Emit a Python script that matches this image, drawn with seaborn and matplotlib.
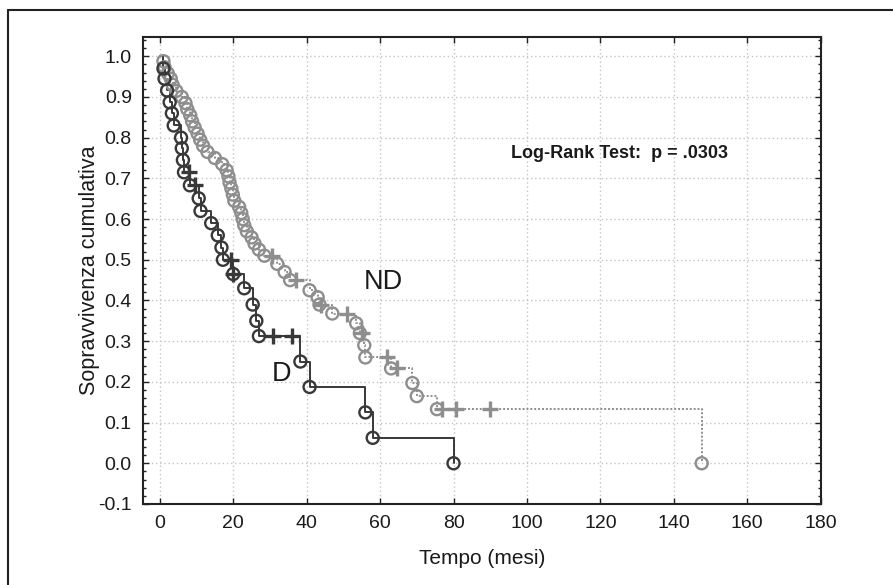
import matplotlib.pyplot as plt
import pandas as pd
import seaborn as sns
from matplotlib.lines import Line2D
from matplotlib.ticker import MultipleLocator, AutoMinorLocator, FormatStrFormatter

sns.set_theme(style='white')
plt.rcParams['font.family'] = ['Liberation Sans', 'DejaVu Sans']
plt.rcParams['axes.unicode_minus'] = False

# gruppo D: tempi di evento (mesi) e sopravvivenza dopo l'evento
d_time = [1.0, 1.3, 2.0, 2.7, 3.3, 3.8, 5.8, 6.0, 6.3, 6.6, 8.2, 10.6, 11.1, 14.0,
          15.8, 16.8, 17.2, 20.0, 23.0, 25.3, 26.3, 27.0, 38.3, 40.8, 56.0, 58.0, 80.0]
d_surv = [0.970, 0.945, 0.916, 0.887, 0.860, 0.830, 0.800, 0.774, 0.745, 0.715, 0.683,
          0.651, 0.620, 0.590, 0.560, 0.530, 0.500, 0.465, 0.430, 0.390, 0.350, 0.3125,
          0.250, 0.1875, 0.125, 0.0625, 0.0]
d_cens_time = [8.0, 9.5, 19.5, 20.0, 30.8, 36.0]
d_cens_surv = [0.715, 0.683, 0.500, 0.465, 0.3125, 0.3125]

# gruppo ND
nd_time = [1.0, 1.3, 2.2, 3.0, 3.5, 4.5, 6.0, 7.0, 7.5, 8.3, 8.8, 9.5, 10.3, 11.0, 11.8,
           13.0, 15.0, 17.0, 18.2, 18.7, 19.0, 19.5, 19.9, 20.3, 21.6, 22.2, 22.6, 23.0,
           23.7, 25.0, 25.8, 27.0, 28.5, 32.0, 34.0, 35.5, 40.8, 43.0, 43.5, 47.0, 53.5,
           54.5, 55.7, 56.0, 63.0, 68.8, 70.0, 75.5, 147.6]
nd_surv = [0.988, 0.973, 0.958, 0.945, 0.930, 0.915, 0.900, 0.885, 0.870, 0.855, 0.840,
           0.825, 0.810, 0.795, 0.780, 0.765, 0.750, 0.735, 0.720, 0.705, 0.690, 0.675,
           0.660, 0.645, 0.630, 0.615, 0.600, 0.585, 0.570, 0.555, 0.540, 0.525, 0.510,
           0.490, 0.470, 0.450, 0.425, 0.408, 0.390, 0.368, 0.344, 0.320, 0.290, 0.260,
           0.233, 0.197, 0.165, 0.133, 0.0]
nd_cens_time = [30.7, 37.0, 44.0, 51.0, 55.0, 62.0, 64.5, 77.0, 80.6, 90.0]
nd_cens_surv = [0.510, 0.450, 0.390, 0.368, 0.320, 0.260, 0.233, 0.133, 0.133, 0.133]

d_df = pd.DataFrame({'t': [0.0] + d_time, 's': [1.0] + d_surv})
nd_df = pd.DataFrame({'t': [0.0] + nd_time, 's': [1.0] + nd_surv})

d_col = '#383838'
nd_col = '#8e8e8e'

fig = plt.figure(figsize=(8.93, 5.85), dpi=100)
ax = fig.add_axes([0.160, 0.1385, 0.759, 0.798])

ax.grid(True, color='#c4c4c4', linestyle=(0, (1, 2)), linewidth=1)
ax.set_axisbelow(True)

sns.lineplot(data=nd_df, x='t', y='s', drawstyle='steps-post', estimator=None, sort=False,
             color=nd_col, linestyle=(0, (1, 1)), linewidth=1.4, ax=ax)
sns.lineplot(data=d_df, x='t', y='s', drawstyle='steps-post', estimator=None, sort=False,
             color=d_col, linewidth=1.4, ax=ax)

sns.scatterplot(x=nd_time, y=nd_surv, marker='o', s=75, facecolor='none',
                edgecolor=nd_col, linewidth=1.7, ax=ax, zorder=3)
sns.scatterplot(x=d_time, y=d_surv, marker='o', s=75, facecolor='none',
                edgecolor=d_col, linewidth=1.7, ax=ax, zorder=3)
sns.scatterplot(x=nd_cens_time, y=nd_cens_surv, marker='+', s=120, color=nd_col,
                linewidth=2.4, ax=ax, zorder=4)
sns.scatterplot(x=d_cens_time, y=d_cens_surv, marker='+', s=120, color=d_col,
                linewidth=2.4, ax=ax, zorder=4)

ax.set_xlim(-4.6, 180)
ax.set_ylim(-0.1, 1.047)
ax.xaxis.set_major_locator(MultipleLocator(20))
ax.yaxis.set_major_locator(MultipleLocator(0.1))
ax.yaxis.set_major_formatter(FormatStrFormatter('%.1f'))
ax.yaxis.set_minor_locator(AutoMinorLocator(5))
ax.tick_params(which='major', direction='in', top=True, right=True, left=True, bottom=True,
               length=4, width=1, color='#222222', labelsize=14, labelcolor='#1a1a1a', pad=8)
ax.tick_params(which='minor', direction='in', left=True, right=True, length=2, width=1,
               color='#222222')

for side in ['left', 'top']:
    ax.spines[side].set_color('#222222')
    ax.spines[side].set_linewidth(1.5)
for side in ['bottom', 'right']:
    ax.spines[side].set_color('#222222')
    ax.spines[side].set_linewidth(1.5)
    ax.spines[side].set_linestyle((0, (1, 1)))

ax.set_xlabel('Tempo (mesi)', fontsize=15, color='#1a1a1a', labelpad=12)
ax.set_ylabel('Sopravvivenza cumulativa', fontsize=15.5, color='#1a1a1a', labelpad=-1)

ax.text(95.7, 0.762, 'Log-Rank Test:  p = .0303', fontsize=13, fontweight='bold',
        color='#1a1a1a', va='center', ha='left')
ax.text(61, 0.445, 'ND', fontsize=19.5, color='#1a1a1a', ha='center', va='center')
ax.text(33.2, 0.219, 'D', fontsize=19.5, color='#1a1a1a', ha='center', va='center')

# cornice esterna
fig.add_artist(Line2D([0.009, 1.0], [1 - 10 / 585, 1 - 10 / 585], transform=fig.transFigure,
                      color='#222222', linewidth=1.5))
fig.add_artist(Line2D([0.009, 0.009], [0.0, 1 - 10 / 585], transform=fig.transFigure,
                      color='#222222', linewidth=1.5))

fig.savefig('out.png', dpi=100)
